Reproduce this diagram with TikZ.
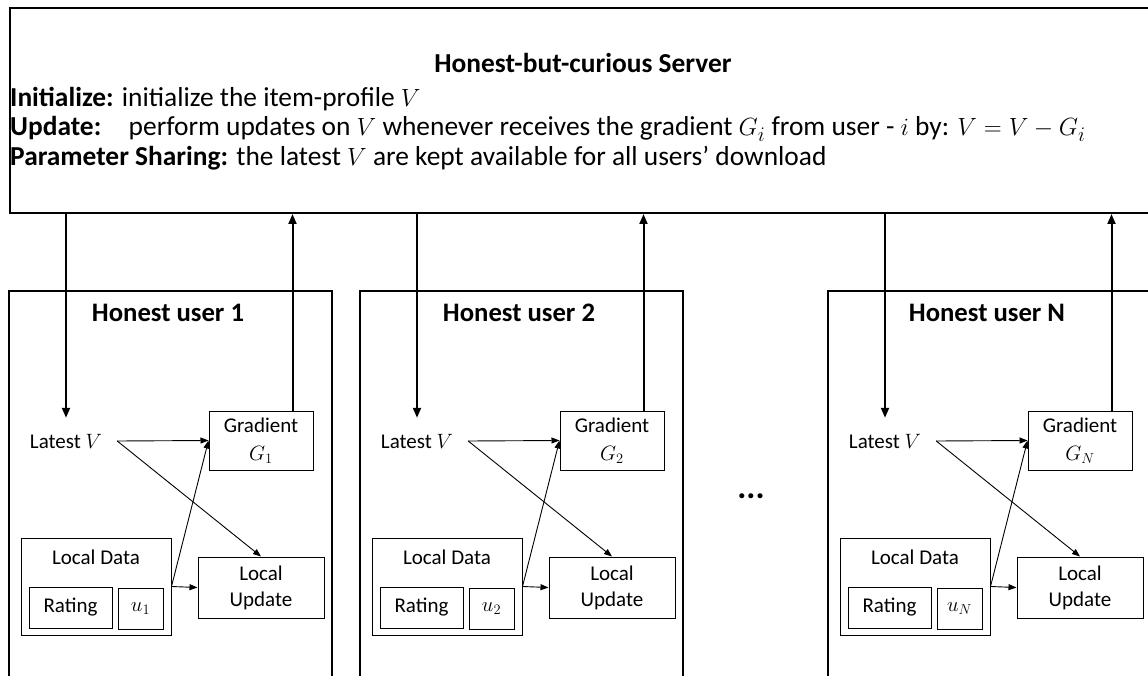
\documentclass[tikz,border=0pt]{standalone}
\usepackage{fontspec}
\setmainfont{Carlito}
\usetikzlibrary{arrows.meta,calc}
\begin{document}
\begin{tikzpicture}[x=1pt,y=-1pt,
  bigbox/.style={draw, line width=2pt, anchor=north west, inner sep=0pt},
  inbox/.style={draw, line width=1pt, inner sep=0pt, align=center, font=\fontsize{21}{25}\selectfont},
  txt/.style={font=\fontsize{21}{25}\selectfont},
  srvtxt/.style={font=\fontsize{27.4}{30}\selectfont, anchor=base west, inner sep=0pt},
  thickarr/.style={line width=2pt, -{Triangle[length=10pt,width=8pt]}},
  thinarr/.style={line width=0.9pt, -{Triangle[length=8pt,width=6pt]}}]
\useasboundingbox (0,0) rectangle (1148,676);
\clip (0,0) rectangle (1148,676);
\fill[white] (0,0) rectangle (1148,676);
% server
\node[bigbox, minimum width=1160pt, minimum height=205pt] (srv) at (9,7) {};
\node[srvtxt, anchor=base, font=\fontsize{27.4}{30}\selectfont\bfseries] (title) at (583,73) {Honest-but-curious Server};
\node[srvtxt] (l1) at (10,107) {\textbf{Initialize:} initialize the item-profile $V$};
\node[srvtxt] (l2) at (10,136) {\textbf{Update:}\hspace{0.7em} perform updates on $V$ whenever receives the gradient $G_i$ from user - $i$ by: $V=V-G_i$};
\node[srvtxt] (l3) at (10,166) {\textbf{Parameter Sharing:} the latest $V$ are kept available for all users' download};
% users
\foreach \o/\s/\n in {0/1/1, 351/2/2, 819/N/N} {
  \begin{scope}[xshift=\o]
  \node[bigbox, minimum width=323pt, minimum height=420pt] (u\n) at (8,290) {};
  \node[font=\fontsize{26.7}{30}\selectfont\bfseries] (t\n) at (168,313) {Honest user \s};
  \node[txt, inner xsep=15pt, minimum height=46pt] (lv\n) at (66,441) {Latest $V$};
  \node[inbox, minimum width=104pt, minimum height=59pt] (g\n) at (261,440.5) {Gradient\\[3pt]$G_{\s}$};
  \node[inbox, minimum width=150pt, minimum height=97pt] (ld\n) at (96,586.5) {};
  \node[txt] (ldt\n) at (96,557) {Local Data};
  \node[inbox, minimum width=83pt, minimum height=41pt] (r\n) at (70.5,607.5) {Rating};
  \node[inbox, minimum width=45pt, minimum height=41pt] (uu\n) at (140.5,608.5) {$u_{\s}$};
  \node[inbox, minimum width=126pt, minimum height=61pt] (lu\n) at (261,587.5) {Local\\[1pt]Update};
  \coordinate (up\n) at ($(g\n.north west)!0.8!(g\n.north east)$);
  \draw[thickarr] (lv\n.north |- srv.south) -- (lv\n.north);
  \draw[thickarr] (up\n) -- (up\n |- srv.south);
  \draw[thinarr] (lv\n.east) -- (g\n.west);
  \draw[thinarr] (lv\n.east) -- (lu\n.north);
  \draw[thinarr] (ld\n.east) -- (lu\n.west);
  \draw[thinarr] (ld\n.east) -- (g\n.west);
  \end{scope}
}
\node[font=\fontsize{34}{36}\selectfont\bfseries] (dots) at (751,496) {...};
\end{tikzpicture}
\end{document}
